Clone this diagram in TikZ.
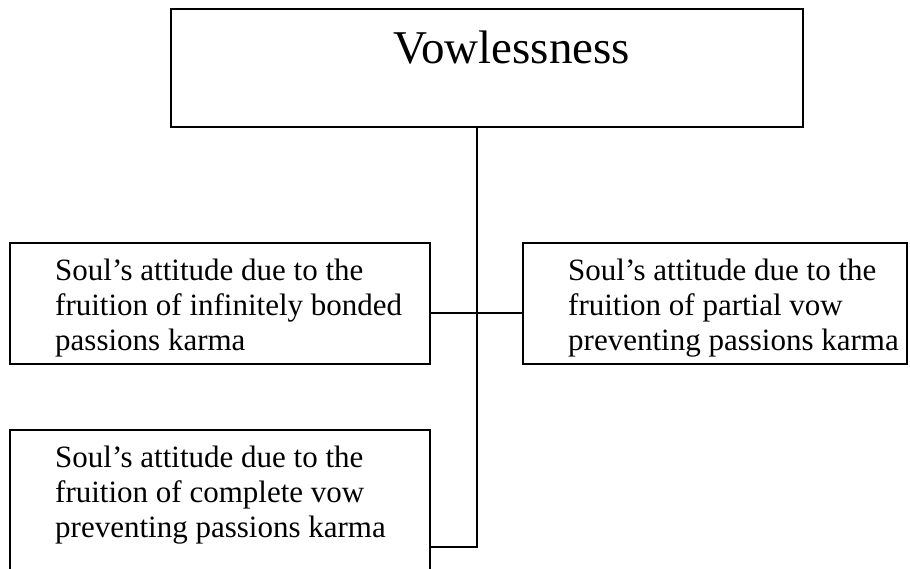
\documentclass[tikz,border=0pt]{standalone}
\usepackage{fontspec}
\setmainfont{Liberation Serif}
\begin{document}
\begin{tikzpicture}[x=1pt,y=-1pt,
  box/.style={draw, line width=1.1pt, rectangle, inner sep=0pt},
  lbl/.style={anchor=north west, inner sep=0pt, font=\fontsize{31}{35}\selectfont, align=left},
  conn/.style={line width=1.1pt}]
\useasboundingbox (0,0) rectangle (910,568);
\clip (0,0) rectangle (910,568);
\node[box, minimum width=632pt, minimum height=118pt] (top) at (487,68) {};
\node[anchor=base west, inner sep=0pt, font=\fontsize{47}{56}\selectfont] (toptext) at (393,63) {Vowlessness};
\node[box, minimum width=420pt, minimum height=121pt] (left1) at (220,303.5) {};
\node[box, minimum width=384pt, minimum height=121pt] (right) at (715,303.5) {};
\node[box, minimum width=420pt, minimum height=170pt] (bottom) at (220,515) {};
\node[lbl] (left1text) at (55,259) {Soul’s attitude due to the\\fruition of infinitely bonded\\passions karma};
\node[lbl] (righttext) at (568,259) {Soul’s attitude due to the\\fruition of partial vow\\preventing passions karma};
\node[lbl] (bottomtext) at (55,446) {Soul’s attitude due to the\\fruition of complete vow\\preventing passions karma};
\coordinate (jA) at (477,313);
\coordinate (jB) at (477,547);
\draw[conn] (top.south -| jA) -- (jB) -- (jB -| bottom.east);
\draw[conn] (left1.east |- jA) -- (right.west |- jA);
\end{tikzpicture}
\end{document}
